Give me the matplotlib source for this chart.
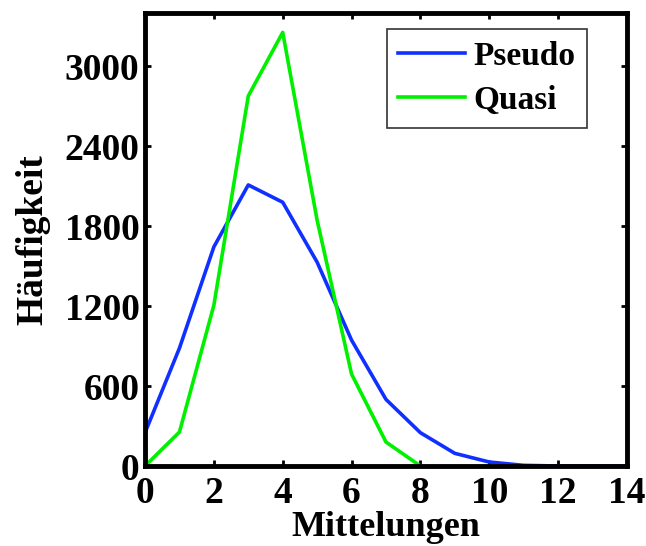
import matplotlib.pyplot as plt

x = list(range(15))
pseudo = [250, 885, 1645, 2110, 1980, 1530, 945, 500, 250, 95, 30, 5, 0, 0, 0]
quasi_x = list(range(9))
quasi = [0, 255, 1207, 2778, 3255, 1845, 690, 180, 0]
xticks = [0, 2, 4, 6, 8, 10, 12, 14]
yticks = [0, 600, 1200, 1800, 2400, 3000]

plt.rcParams['font.family'] = ['Liberation Serif', 'DejaVu Serif']
plt.rcParams['font.weight'] = 'bold'

fig = plt.figure(figsize=(6.46, 5.46), dpi=100, facecolor='w')
ax = fig.add_axes([0.2245, 0.1465, 0.746, 0.8295])
ax.plot(x, pseudo, color='#1030ff', lw=2.6, label='Pseudo')
ax.plot(quasi_x, quasi, color='#00f000', lw=2.6, label='Quasi')
ax.set_xlim(0, 14)
ax.set_ylim(0, 3400)
ax.set_xticks(xticks)
ax.set_yticks(yticks)
ax.tick_params(axis='both', direction='in', length=4, width=2, top=True, right=True,
               labelsize=27)
ax.tick_params(axis='x', pad=7)
ax.tick_params(axis='y', pad=4)
for lab in ax.get_xticklabels() + ax.get_yticklabels():
    lab.set_fontweight('bold')
for s in ax.spines.values():
    s.set_linewidth(3.5)
ax.set_xlabel('Mittelungen', fontsize=26, fontweight='bold', labelpad=0)
ax.set_ylabel('Häufigkeit', fontsize=27, fontweight='bold', labelpad=10)
leg = ax.legend(loc='upper right', bbox_to_anchor=(0.917, 0.965), borderaxespad=0,
                frameon=True, fancybox=False, edgecolor='k', handlelength=2.0,
                handletextpad=0.25, borderpad=0.35, labelspacing=0.4,
                prop={'weight': 'bold', 'size': 24})
leg.get_frame().set_linewidth(1.2)
plt.savefig('out.png', dpi=100)
